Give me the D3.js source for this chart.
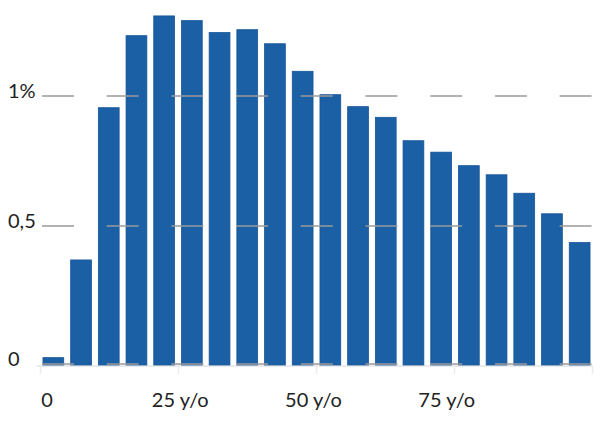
<!DOCTYPE html>
<html>
<head>
<meta charset="utf-8">
<script src="https://cdn.jsdelivr.net/npm/d3@7"></script>
<style>
  html, body { margin: 0; padding: 0; background: #fff; }
  svg { display: block; }
  text { font-family: Lato, "Open Sans", sans-serif; fill: #222; }
</style>
</head>
<body>
<svg id="chart" width="607" height="423"></svg>
<script>
// Age groups (5-year bands)
const categories = ["0-4","5-9","10-14","15-19","20-24","25-29","30-34","35-39","40-44","45-49",
                    "50-54","55-59","60-64","65-69","70-74","75-79","80-84","85-89","90-94","95-99"];
// Share of population (%)
const values = [0.023, 0.377, 0.955, 1.232, 1.308, 1.290, 1.244, 1.255, 1.201, 1.095,
                1.005, 0.959, 0.918, 0.828, 0.784, 0.732, 0.697, 0.626, 0.547, 0.440];
const yTicks = [0, 0.5, 1];
const yTickLabels = ["0", "0,5", "1%"];
const xTicks = [0, 25, 50, 75];
const xTickLabels = ["0", "25 y/o", "50 y/o", "75 y/o"];

const svg = d3.select("#chart");

const x = d3.scaleBand().domain(categories).range([39.5, 593.5])
  .paddingInner(0.25).paddingOuter(0.125);
const y = d3.scaleLinear().domain([0, 0.5, 1]).range([364, 226, 96]);
const xAge = d3.scaleLinear().domain([0, 100]).range([40, 592]);
const xLabel = d3.scaleLinear().domain([0, 100]).range([47, 580]);

// x axis line with small ticks
const xAxis = d3.axisBottom(xAge).tickValues([0, 25, 50, 75, 100]).tickSize(8).tickFormat("");
const gx = svg.append("g").attr("transform", "translate(0,366)").call(xAxis);
gx.select(".domain").attr("stroke", "#e4e4e4").attr("stroke-width", 1.5).attr("d", "M37,0H593");
gx.selectAll(".tick line").attr("stroke", "#ececec").attr("stroke-width", 1.5);

// bars
svg.append("g").selectAll("rect").data(values).join("rect")
  .attr("x", (d, i) => x(categories[i]))
  .attr("width", x.bandwidth())
  .attr("y", d => y(d))
  .attr("height", d => y(0) + 1 - y(d))
  .attr("fill", "#1b5fa4")
  .attr("stroke", "#15559b")
  .attr("stroke-width", 0.8);

// dashed gridlines (drawn above bars)
svg.append("g").selectAll("line").data(yTicks).join("line")
  .attr("x1", 42).attr("x2", 592)
  .attr("y1", d => y(d)).attr("y2", d => y(d))
  .attr("stroke", "#9a9a9a").attr("stroke-width", 1.5)
  .attr("stroke-dasharray", "32 32.7");

// y tick labels
svg.append("g").selectAll("text").data(yTicks).join("text")
  .attr("x", 8).attr("y", d => y(d) + 1.5)
  .attr("font-size", 20)
  .text((d, i) => yTickLabels[i]);

// x tick labels
svg.append("g").selectAll("text").data(xTicks).join("text")
  .attr("x", d => xLabel(d)).attr("y", 407)
  .attr("text-anchor", "middle")
  .attr("font-size", 20)
  .text((d, i) => xTickLabels[i]);
</script>
</body>
</html>
